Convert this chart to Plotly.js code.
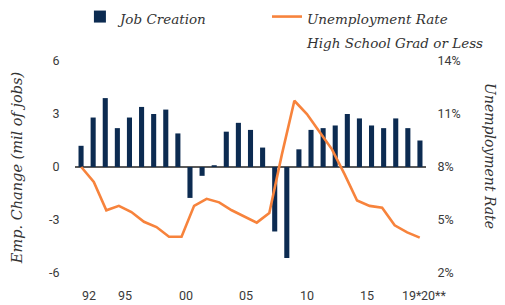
<!DOCTYPE html>
<html>
<head>
<meta charset="utf-8">
<script src="https://cdn.plot.ly/plotly-3.0.1.min.js"></script>
<style>html,body{margin:0;padding:0;background:#fff;}#chart{width:505px;height:305px;}</style>
</head>
<body>
<div id="chart"></div>
<script>
// Job creation (millions of jobs), 1992–2020 (2019* and 2020** forecasts)
const jobYears = [1992,1993,1994,1995,1996,1997,1998,1999,2000,2001,2002,2003,2004,2005,2006,2007,2008,2009,2010,2011,2012,2013,2014,2015,2016,2017,2018,2019,2020];
const jobChange = [1.2,2.8,3.9,2.2,2.8,3.4,3.0,3.25,1.9,-1.75,-0.5,0.1,2.0,2.5,2.1,1.1,-3.65,-5.15,1.0,2.1,2.2,2.35,3.0,2.75,2.35,2.2,2.75,2.2,1.5];

// Unemployment rate, high school grad or less (%), 1992–2019
const rateYears = [1992,1993,1994,1995,1996,1997,1998,1999,2000,2001,2002,2003,2004,2005,2006,2007,2008,2009,2010,2011,2012,2013,2014,2015,2016,2017,2018,2019];
const unempRate = [8.0,7.15,5.55,5.8,5.45,4.9,4.6,4.05,4.05,5.8,6.2,6.0,5.55,5.2,4.85,5.4,8.7,11.75,11.0,10.0,9.0,7.6,6.1,5.8,5.7,4.7,4.3,4.0];

// Tick labels
const xTickYears = [1992,1995,2000,2005,2010,2015,2019,2020];
const xTickText = ['92','95','00','05','10','15','19*','20**'];
const leftTicks = [-6,-3,0,3,6];
const leftTickText = ['-6','-3','0','3','6'];
const rightTicks = [2,5,8,11,14];
const rightTickText = ['2%','5%','8%','11%','14%'];

const navy = '#0c2b51';
const orange = '#f7833c';
const tickFont = {family:'Roboto, Liberation Sans, sans-serif', size:12.5, color:'#3a3a3a'};
const serif = 'DejaVu Serif, Georgia, serif';

const traces = [
  {type:'bar', x:jobYears, y:jobChange, name:"<span style='font-size:13.5px'>Job Creation</span>",
   marker:{color:navy}, xaxis:'x', yaxis:'y', legend:'legend', hoverinfo:'skip'},
  {type:'scatter', mode:'lines', x:rateYears, y:unempRate,
   name:"<span style='font-size:13.5px'>Unemployment Rate</span><br><span style='font-size:13.5px'>High School Grad or Less</span>",
   line:{color:orange, width:2.6}, xaxis:'x2', yaxis:'y2', legend:'legend2', hoverinfo:'skip'}
];

const annotations = xTickText.map((t,i)=>({
  text:t, x:xTickYears[i], xref:'x', y:-0.108, yref:'paper', xanchor:'left', yanchor:'middle',
  xshift: t==='19*' ? -8 : -1, showarrow:false, font:tickFont
}));
annotations.push({text:'Emp. Change (mil of jobs)', textangle:-90, x:-0.165, xref:'paper', y:0.495, yref:'paper',
  xanchor:'center', yanchor:'middle', showarrow:false, font:{family:serif, size:14.5, style:'italic', color:'#333'}});
annotations.push({text:'Unemployment Rate', textangle:90, x:1.182, xref:'paper', y:0.552, yref:'paper',
  xanchor:'center', yanchor:'middle', showarrow:false, font:{family:serif, size:14, style:'italic', color:'#333'}});

const layout = {
  width:505, height:305,
  margin:{l:75, r:79, t:61, b:32, autoexpand:false},
  paper_bgcolor:'#fff', plot_bgcolor:'#fff',
  bargap:0.58,
  xaxis:{range:[1991.5,2020.5], showticklabels:false, ticks:'', showgrid:false, zeroline:false, showline:false, fixedrange:true},
  xaxis2:{range:[1991.5,2019.5], overlaying:'x', visible:false, showgrid:false, zeroline:false},
  yaxis:{range:[-6,6], tickvals:leftTicks, ticktext:leftTickText, ticks:'outside', ticklen:12, tickcolor:'rgba(0,0,0,0)',
         tickfont:tickFont, showgrid:false, zeroline:true, zerolinecolor:'#5a5a5a', zerolinewidth:2, showline:false},
  yaxis2:{range:[2,14], tickvals:rightTicks, ticktext:rightTickText, overlaying:'y', side:'right', ticks:'outside', ticklen:8,
          tickcolor:'rgba(0,0,0,0)', tickfont:tickFont, showgrid:false, zeroline:false, showline:false},
  legend:{x:0.014, xanchor:'left', y:1.297, yanchor:'top', bgcolor:'rgba(0,0,0,0)', valign:'top',
          font:{family:serif, size:18.5, style:'italic', color:'#333'}},
  legend2:{x:0.547, xanchor:'left', y:1.297, yanchor:'top', bgcolor:'rgba(0,0,0,0)', valign:'top',
          font:{family:serif, size:18.5, style:'italic', color:'#333'}},
  annotations:annotations,
  showlegend:true
};

Plotly.newPlot('chart', traces, layout, {displayModeBar:false, staticPlot:true});
</script>
</body>
</html>
